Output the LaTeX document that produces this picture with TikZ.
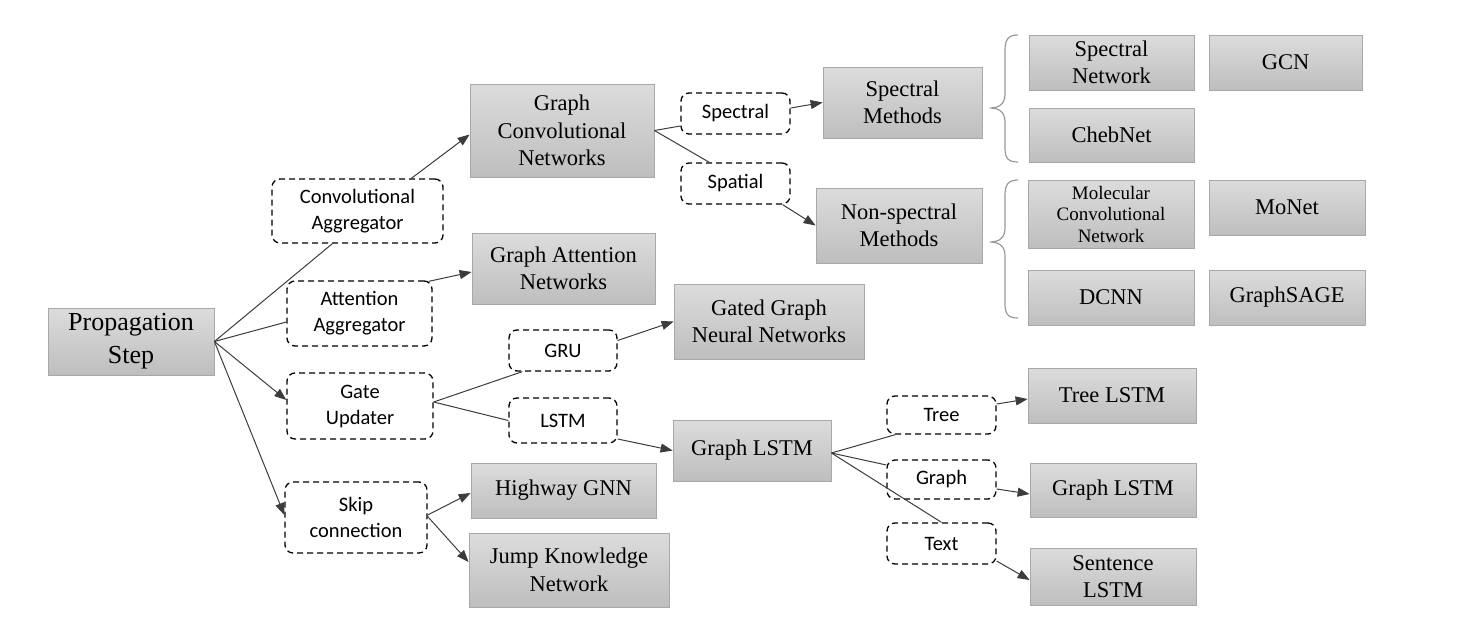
\documentclass[tikz,border=0pt]{standalone}
\usepackage{fontspec}
\setmainfont{Liberation Serif}
\newfontfamily\calfont{Carlito}
\usetikzlibrary{arrows.meta,calc}
\definecolor{gtop}{HTML}{DCDCDC}
\definecolor{gbot}{HTML}{BEBEBE}
\definecolor{gedge}{HTML}{A8A8A8}
\definecolor{lnk}{HTML}{3C3C3C}
\begin{document}
\begin{tikzpicture}[x=1pt,y=-1pt,
  gbox/.style={draw=gedge,line width=0.8pt,top color=gtop,bottom color=gbot,
    inner sep=0pt,align=center,font=\fontsize{22.5}{27.5}\selectfont},
  dbox/.style={draw=black,line width=1.3pt,dash pattern=on 6pt off 4pt,
    rounded corners=8pt,inner sep=0pt,align=center,
    font=\calfont\fontsize{20.5}{26}\selectfont},
  conn/.style={draw=lnk,line width=1pt},
  arr/.style={conn,-{Triangle[length=12pt,width=9pt]}},
  brace/.style={draw=gray!80,line width=1.2pt}]
\useasboundingbox (0,0) rectangle (1472,640);

% gray boxes
\node[gbox,minimum width=166pt,minimum height=67pt,font=\fontsize{26}{33}\selectfont] (prop) at (131,341.5) {Propagation\\Step};
\node[gbox,minimum width=184pt,minimum height=93pt] (gcn) at (562,130.5) {Graph\\Convolutional\\Networks};
\node[gbox,minimum width=183pt,minimum height=71pt] (gat) at (563.5,268.5) {Graph Attention\\Networks};
\node[gbox,minimum width=190pt,minimum height=75pt] (ggnn) at (769,321.5) {Gated Graph\\Neural Networks};
\node[gbox,minimum width=158pt,minimum height=61pt] (glstm) at (752,450.5) {Graph LSTM};
\node[gbox,minimum width=185pt,minimum height=55pt] (hwy) at (563.5,490.5) {Highway GNN};
\node[gbox,minimum width=200pt,minimum height=74pt] (jump) at (569,570) {Jump Knowledge\\Network};
\node[gbox,minimum width=159pt,minimum height=71pt] (sm) at (902.5,102.5) {Spectral\\Methods};
\node[gbox,minimum width=166pt,minimum height=75pt] (nsm) at (899,225.5) {Non-spectral\\Methods};
\node[gbox,minimum width=165pt,minimum height=55pt] (specnet) at (1111.5,62.5) {Spectral\\Network};
\node[gbox,minimum width=153pt,minimum height=55pt] (gcnb) at (1285.5,62.5) {GCN};
\node[gbox,minimum width=165pt,minimum height=54pt] (cheb) at (1111.5,135) {ChebNet};
\node[gbox,minimum width=166pt,minimum height=68pt,font=\fontsize{19}{21.5}\selectfont] (mol) at (1111,214) {Molecular\\Convolutional\\Network};
\node[gbox,minimum width=156pt,minimum height=55pt] (monet) at (1287,207.5) {MoNet};
\node[gbox,minimum width=166pt,minimum height=55pt] (dcnn) at (1111,297.5) {DCNN};
\node[gbox,minimum width=156pt,minimum height=55pt] (sage) at (1287,297.5) {GraphSAGE};
\node[gbox,minimum width=168pt,minimum height=55pt] (treel) at (1112,395.5) {Tree LSTM};
\node[gbox,minimum width=166pt,minimum height=54pt] (graphl) at (1113,490) {Graph LSTM};
\node[gbox,minimum width=166pt,minimum height=57pt] (sent) at (1113,576.5) {Sentence\\LSTM};

% dashed boxes
\node[dbox,minimum width=171pt,minimum height=64pt] (conv) at (357.5,211) {Convolutional\\Aggregator};
\node[dbox,minimum width=145pt,minimum height=65pt] (att) at (359.5,313.5) {Attention\\Aggregator};
\node[dbox,minimum width=146pt,minimum height=66pt] (gate) at (360,406) {Gate\\Updater};
\node[dbox,minimum width=142pt,minimum height=71pt] (skip) at (356,517.5) {Skip\\connection};
\node[dbox,minimum width=108pt,minimum height=41pt] (gru) at (563,350.5) {GRU};
\node[dbox,minimum width=108pt,minimum height=45pt] (lstm) at (563,420.5) {LSTM};
\node[dbox,minimum width=109pt,minimum height=41pt] (spec) at (735.5,113.5) {Spectral};
\node[dbox,minimum width=109pt,minimum height=41pt] (spat) at (735.5,183.5) {Spatial};
\node[dbox,minimum width=109pt,minimum height=38pt] (tree) at (941.5,415) {Tree};
\node[dbox,minimum width=109pt,minimum height=39pt] (graph) at (941.5,479.5) {Graph};
\node[dbox,minimum width=109pt,minimum height=41pt] (text) at (941.5,543.5) {Text};

% braces
\draw[brace] (1018,35) .. controls (1008,35) and (1005,40) .. (1005,50)
  -- (1005,94) .. controls (1005,103) and (1000,108) .. (990,108)
  .. controls (1000,108) and (1005,113) .. (1005,122)
  -- (1005,148) .. controls (1005,158) and (1008,162) .. (1018,162);
\draw[brace] (1018,180) .. controls (1008,180) and (1005,185) .. (1005,195)
  -- (1005,228) .. controls (1005,237) and (1000,242) .. (990,242)
  .. controls (1000,242) and (1005,247) .. (1005,256)
  -- (1005,304) .. controls (1005,314) and (1008,318) .. (1018,318);

% connectors
\draw[conn] (prop.east) -- ($(conv.south west)+(61,0)$);
\draw[arr] ($(conv.north west)+(140,0)$) -- ($(gcn.west)+(0,4)$);
\draw[conn] (prop.east) -- ($(att.west)+(0,8.5)$);
\draw[arr] ($(att.north east)+(-4,1)$) -- ($(gat.west)+(0,3.5)$);
\draw[arr] (prop.east) -- ($(gate.west)+(0,-6)$);
\draw[arr] (prop.east) -- ($(skip.west)+(0,-2.5)$);

\draw[conn] ($(gate.east)+(0,-4)$) -- ($(gru.south west)+(14,0)$);
\draw[arr] ($(gru.east)+(0,-10)$) -- (ggnn.west);
\draw[conn] ($(gate.east)+(0,-4)$) -- (lstm.west);
\draw[arr] ($(lstm.east)+(0,18.5)$) -- (glstm.west);

\draw[arr] ($(skip.east)+(0,-2.5)$) -- ($(hwy.west)+(0,2.5)$);
\draw[arr] ($(skip.east)+(0,-1)$) -- ($(jump.west)+(0,-8)$);

\draw[conn] (gcn.east) -- ($(spec.west)+(0,12.5)$);
\draw[conn] (gcn.east) -- ($(spat.north west)+(29,0)$);
\draw[arr] ($(spec.east)+(0,-5.5)$) -- (sm.west);
\draw[arr] ($(spat.south east)+(-8,0)$) -- (nsm.west);

\draw[conn] ($(glstm.east)+(0,2.5)$) -- ($(tree.south west)+(9,0)$);
\draw[conn] ($(glstm.east)+(0,2.5)$) -- ($(graph.west)+(0,-14.5)$);
\draw[conn] ($(glstm.east)+(0,2.5)$) -- (text.north);
\draw[arr] ($(tree.east)+(0,-11)$) -- ($(treel.west)+(0,3.5)$);
\draw[arr] ($(graph.east)+(0,9.5)$) -- ($(graphl.west)+(0,4)$);
\draw[arr] ($(text.east)+(0,17.5)$) -- ($(sent.west)+(0,3.5)$);
\end{tikzpicture}
\end{document}
